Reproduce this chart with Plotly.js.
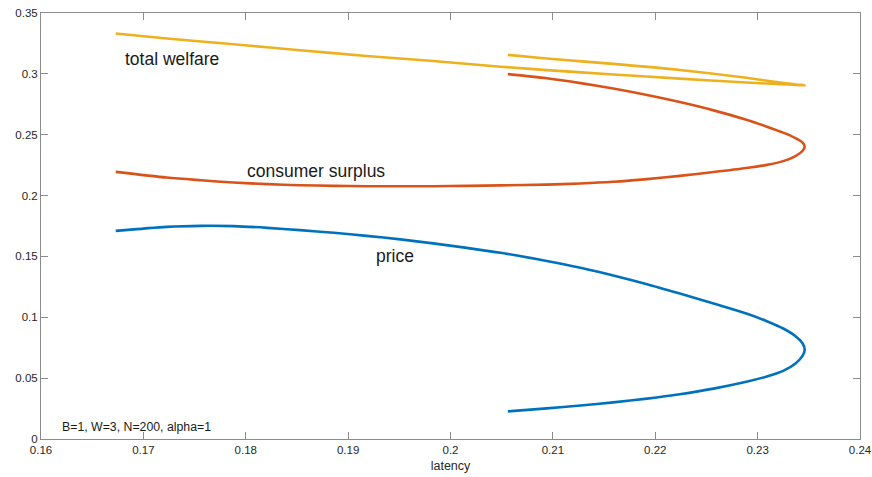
<!DOCTYPE html>
<html>
<head>
<meta charset="utf-8">
<script src="https://cdn.plot.ly/plotly-3.0.1.min.js"></script>
<style>html,body{margin:0;padding:0;background:#fff;}#chart{width:872px;height:477px;}</style>
</head>
<body>
<div id="chart"></div>
<script>
// price (blue)
const priceLatency = [0.1673,0.1723,0.1756,0.1788,0.1821,0.1853,0.1886,0.1918,0.1951,0.1983,0.2016,0.2049,0.2094,0.2127,0.2159,0.2192,0.2224,0.2257,0.2289,0.2309,0.2325,0.2337,0.2344,0.2346,0.2344,0.2337,0.2325,0.2309,0.2289,0.2257,0.2224,0.2192,0.2159,0.2127,0.2094,0.2056];
const priceValue   = [0.1710,0.1743,0.1751,0.1749,0.1735,0.1716,0.1694,0.1669,0.1640,0.1607,0.1570,0.1530,0.1463,0.1407,0.1344,0.1272,0.1195,0.1113,0.1031,0.0968,0.0908,0.0845,0.0785,0.0735,0.0685,0.0620,0.0560,0.0514,0.0470,0.0414,0.0368,0.0332,0.0301,0.0275,0.0252,0.0227];
// consumer surplus (orange)
const csLatency = [0.1673,0.1723,0.1756,0.1788,0.1821,0.1853,0.1886,0.1918,0.1951,0.1983,0.2016,0.2049,0.2094,0.2127,0.2159,0.2192,0.2224,0.2257,0.2289,0.2309,0.2325,0.2337,0.2344,0.2346,0.2344,0.2337,0.2325,0.2309,0.2289,0.2257,0.2224,0.2192,0.2159,0.2127,0.2094,0.2056];
const csValue   = [0.2195,0.2148,0.2126,0.2107,0.2094,0.2085,0.2080,0.2077,0.2077,0.2077,0.2080,0.2084,0.2090,0.2099,0.2113,0.2135,0.2162,0.2193,0.2226,0.2252,0.2283,0.2325,0.2368,0.2403,0.2435,0.2472,0.2517,0.2566,0.2623,0.2700,0.2768,0.2826,0.2879,0.2924,0.2964,0.2998];
// total welfare (yellow)
const twLatency = [0.1673,0.1723,0.1788,0.1853,0.1918,0.1983,0.2049,0.2094,0.2159,0.2224,0.2289,0.2322,0.2338,0.2346,0.2338,0.2322,0.2289,0.2224,0.2159,0.2094,0.2056];
const twValue   = [0.3331,0.3290,0.3243,0.3194,0.3147,0.3106,0.3059,0.3031,0.2995,0.2961,0.2929,0.2915,0.2909,0.2906,0.2913,0.2928,0.2968,0.3032,0.3082,0.3126,0.3156];

const xTicks = [0.16,0.17,0.18,0.19,0.2,0.21,0.22,0.23,0.24];
const xTickLabels = ['0.16','0.17','0.18','0.19','0.2','0.21','0.22','0.23','0.24'];
const yTicks = [0,0.05,0.1,0.15,0.2,0.25,0.3,0.35];
const yTickLabels = ['0','0.05','0.1','0.15','0.2','0.25','0.3','0.35'];

const font = 'Liberation Sans, Arial, Helvetica, sans-serif';
const lineStyle = (c) => ({color: c, width: 2.6, shape: 'spline', smoothing: 0.8});
const traces = [
  {x: priceLatency, y: priceValue, mode: 'lines', line: lineStyle('#0072BD'), name: 'price'},
  {x: csLatency, y: csValue, mode: 'lines', line: lineStyle('#D95319'), name: 'consumer surplus'},
  {x: twLatency, y: twValue, mode: 'lines', line: lineStyle('#EDB120'), name: 'total welfare'}
];
const axisCommon = {
  showgrid: false, zeroline: false, showline: true, mirror: 'ticks',
  linecolor: '#8c8c8c', linewidth: 1, ticks: 'inside', ticklen: 7, tickcolor: '#8c8c8c',
  tickfont: {family: font, size: 11.5, color: '#262626'}
};
const layout = {
  width: 872, height: 477,
  margin: {l: 40.5, r: 12, t: 12.5, b: 38},
  paper_bgcolor: '#fff', plot_bgcolor: '#fff',
  showlegend: false,
  xaxis: Object.assign({}, axisCommon, {
    range: [0.16, 0.24], tickvals: xTicks, ticktext: xTickLabels,
    title: {text: 'latency', font: {family: font, size: 12.5, color: '#262626'}, standoff: 6}
  }),
  yaxis: Object.assign({}, axisCommon, {
    range: [0, 0.35], tickvals: yTicks, ticktext: yTickLabels
  }),
  annotations: [
    {x: 0.1728, y: 0.312, xref: 'x', yref: 'y', text: 'total welfare', showarrow: false, font: {family: font, size: 17.5, color: '#1a1a1a'}},
    {x: 0.1869, y: 0.2205, xref: 'x', yref: 'y', text: 'consumer surplus', showarrow: false, font: {family: font, size: 17.5, color: '#1a1a1a'}},
    {x: 0.1946, y: 0.1505, xref: 'x', yref: 'y', text: 'price', showarrow: false, font: {family: font, size: 17.5, color: '#1a1a1a'}},
    {x: 0.1693, y: 0.0095, xref: 'x', yref: 'y', text: 'B=1, W=3, N=200, alpha=1', showarrow: false, font: {family: font, size: 12.3, color: '#1a1a1a'}}
  ]
};
Plotly.newPlot('chart', traces, layout, {staticPlot: true, displayModeBar: false});
</script>
</body>
</html>
